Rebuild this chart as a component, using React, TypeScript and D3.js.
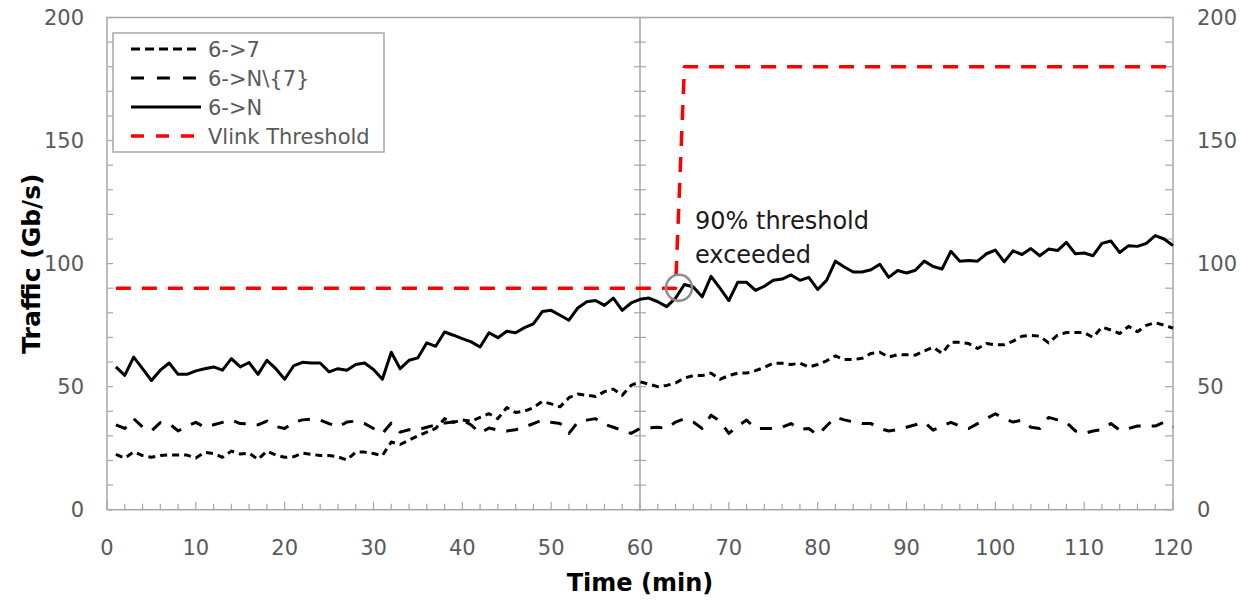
import React from "react";
import * as d3 from "d3";

const minutes = d3.range(1, 121);

const series67 = [
  22.5, 21, 23.5, 22, 21.3, 22, 22.3, 22.2, 22.2, 21,
  23.3, 22.8, 21.3, 23.8, 22.6, 23, 20.4, 23.8, 22.2, 21.3,
  21.5, 23, 22.5, 22, 22, 21.5, 20.2, 23.4, 23.4, 22.8,
  22, 27.5, 26.5, 28.3, 30, 31.5, 33, 37, 35.5, 36.5,
  36, 37.5, 39, 37, 41.5, 39.5, 40, 41.5, 44, 43,
  41.8, 45.5, 47, 46.5, 46, 48, 49, 46.5, 50.5, 52,
  51, 50, 50.5, 51.5, 53.5, 54.5, 54.5, 55.5, 53, 54.5,
  55.5, 55.5, 56.5, 57.8, 59.5, 59.5, 59, 59.5, 58, 59,
  60.5, 62.5, 61, 61, 61.5, 63.5, 64, 62, 63, 63,
  62.8, 64.5, 66, 63.5, 68, 68, 67.5, 65.5, 67.5, 67,
  67, 68.5, 70.5, 70.8, 70.5, 67.8, 70.9, 72, 72, 72,
  70, 74.2, 73, 71.6, 74.5, 72.3, 74.9, 76, 75, 73.8,
];

const series6N7 = [
  34.5, 33, 37, 33.6, 32, 35.4, 35, 32, 34, 35.5,
  33.5, 34.5, 35.5, 36.4, 35, 34.8, 34.5, 36, 33.8, 33,
  35.5, 36.5, 36.8, 36.4, 35, 33.6, 35.6, 36, 35, 33,
  31, 35.2, 31.5, 32.5, 32.5, 33.5, 34.5, 35.2, 35.6, 36.4,
  34.4, 31.1, 33.2, 32.3, 32, 32.5, 33.6, 35, 36.4, 35.5,
  35, 31, 35.6, 36.4, 37, 34.7, 33.5, 32.3, 31, 33,
  33.3, 33.5, 33, 35.6, 37, 35.6, 33, 38.4, 36, 31,
  34, 36.4, 33, 33, 33, 33.5, 35, 32.6, 33, 30.3,
  34, 37.6, 36.5, 35.7, 35, 35, 33, 32, 32.5, 33.5,
  34.5, 35.6, 32.3, 34, 35.5, 34, 33, 35, 37, 39,
  37, 35.6, 36.4, 33.5, 33, 37.5, 36.5, 35.5, 32, 31,
  32, 32.5, 35, 32.3, 33, 34, 34, 34, 35.6, 33.6,
];

const series6N = [
  58, 54.6, 62, 57.3, 52.5, 56.7, 59.6, 55, 55, 56.4,
  57.3, 58, 56.7, 61.4, 58, 59.8, 55, 60.7, 57.3, 53,
  58.4, 59.9, 59.6, 59.6, 56, 57.3, 56.7, 59, 59.6, 57,
  53, 64, 57.3, 60.7, 61.7, 67.8, 66.4, 72.2, 70.9, 69.5,
  68.2, 66.1, 71.9, 69.9, 72.5, 71.9, 74, 75.5, 80.5, 81,
  79, 77, 82, 84.5, 85, 83, 86, 81, 84, 85.5,
  86, 84.5, 82.5, 86, 91.5, 90.5, 86.5, 94.8, 90, 85,
  92.4, 92.4, 89.1, 90.8, 93.2, 93.7, 95.4, 93.2, 94.4, 89.5,
  93.2, 101, 98.6, 96.6, 96.6, 97.5, 99.7, 94.4, 97.2, 96.2,
  97.3, 101, 98.8, 97.8, 105, 101, 101.3, 101, 104, 105.5,
  100.7, 105.2, 103.7, 106.1, 103.2, 105.9, 105.3, 108.6, 104, 104.3,
  103.2, 108.2, 109.2, 104.5, 107.3, 107, 108.2, 111.4, 110, 107.3,
];

const thresholdMinutes = [1, 64, 65, 120];
const thresholdValues = [90, 90, 180, 180];

const xTickValues = d3.range(0, 121, 10);
const xMinorTicks = d3.range(0, 121, 2);
const yTickValues = [0, 50, 100, 150, 200];
const yMinorTicks = d3.range(0, 201, 10);

const legendLabels = ["6->7", "6->N\\{7}", "6->N", "Vlink Threshold"];
const annotationLines = ["90% threshold", "exceeded"];

const FONT = "'DejaVu Sans', 'Open Sans', sans-serif";
const GRID = "#a6a6a6";
const LABEL = "#595959";

const styles = [
  { color: "#000", width: 3, dash: "7,5" },
  { color: "#000", width: 3, dash: "12,11" },
  { color: "#000", width: 3, dash: "" },
  { color: "#ff0000", width: 3.5, dash: "15,11" },
];
const legendDash = ["9,5", "13,13", "", "13,12"];

export default function App() {
  const W = 1241;
  const H = 603;
  const x = d3.scaleLinear().domain([0, 120]).range([107, 1173]);
  const y = d3.scaleLinear().domain([0, 200]).range([509.7, 17.5]);

  const line = d3
    .line<[number, number]>()
    .x((d) => x(d[0]))
    .y((d) => y(d[1]));

  const seriesData: [number, number][][] = [
    minutes.map((m, i) => [m, series67[i]]),
    minutes.map((m, i) => [m, series6N7[i]]),
    minutes.map((m, i) => [m, series6N[i]]),
    thresholdMinutes.map((m, i) => [m, thresholdValues[i]]),
  ];

  const x0 = x(0);
  const x1 = x(120);
  const xm = x(60);
  const yb = y(0);
  const yt = y(200);

  return (
    <svg
      width={W}
      height={H}
      style={{ position: "absolute", left: 0, top: 0, background: "#fff" }}
      fontFamily={FONT}
    >
      <rect x={0} y={0} width={W} height={H} fill="#fff" />
      {/* frame */}
      <rect x={x0} y={yt} width={x1 - x0} height={yb - yt} fill="none" stroke={GRID} strokeWidth={1.5} />
      <line x1={xm} x2={xm} y1={yt} y2={yb} stroke={GRID} strokeWidth={1.5} />

      {/* y minor ticks */}
      {yMinorTicks.map((v) => (
        <g key={"yt" + v} stroke={GRID} strokeWidth={1.2}>
          <line x1={x0} x2={x0 + 6} y1={y(v)} y2={y(v)} />
          <line x1={xm - 6} x2={xm + 6} y1={y(v)} y2={y(v)} />
          <line x1={x1 - 8} x2={x1} y1={y(v)} y2={y(v)} />
        </g>
      ))}
      {/* x minor ticks */}
      {xMinorTicks.map((v) => (
        <line
          key={"xt" + v}
          x1={x(v)}
          x2={x(v)}
          y1={yb}
          y2={yb - (v % 10 === 0 ? 8 : 6)}
          stroke={GRID}
          strokeWidth={1.2}
        />
      ))}

      {/* y labels */}
      {yTickValues.map((v) => (
        <g key={"yl" + v} fontSize={21} fill={LABEL}>
          <text x={84} y={y(v)} dy="0.36em" textAnchor="end">{v}</text>
          <text x={1197} y={y(v)} dy="0.36em" textAnchor="start">{v}</text>
        </g>
      ))}
      {/* x labels */}
      {xTickValues.map((v) => (
        <text key={"xl" + v} x={x(v)} y={555} fontSize={21} fill={LABEL} textAnchor="middle">
          {v}
        </text>
      ))}

      {/* axis titles */}
      <text x={640} y={591} fontSize={24} fontWeight="bold" textAnchor="middle" fill="#000">
        Time (min)
      </text>
      <text
        transform={`translate(40,${(yt + yb) / 2}) rotate(-90)`}
        fontSize={25}
        fontWeight="bold"
        textAnchor="middle"
        fill="#000"
      >
        Traffic (Gb/s)
      </text>

      {/* series */}
      {seriesData.map((d, i) => (
        <path
          key={"s" + i}
          d={line(d) || ""}
          fill="none"
          stroke={styles[i].color}
          strokeWidth={styles[i].width}
          strokeDasharray={styles[i].dash || undefined}
          strokeLinejoin="round"
        />
      ))}

      {/* annotation */}
      <circle cx={679} cy={y(90) - 0.5} r={13} fill="none" stroke="#8c8c8c" strokeWidth={2.5} />
      {annotationLines.map((t, i) => (
        <text key={"an" + i} x={695} y={229 + i * 34} fontSize={24} fill="#1a1a1a">
          {t}
        </text>
      ))}

      {/* legend */}
      <rect x={113} y={33} width={271} height={119} fill="#fff" stroke={GRID} strokeWidth={1.5} />
      {legendLabels.map((t, i) => {
        const cy = 49 + i * 29;
        return (
          <g key={"lg" + i}>
            <line
              x1={131}
              x2={201}
              y1={cy}
              y2={cy}
              stroke={styles[i].color}
              strokeWidth={styles[i].width}
              strokeDasharray={legendDash[i] || undefined}
            />
            <text x={208} y={cy + 7.5} fontSize={21} fill={LABEL}>
              {t}
            </text>
          </g>
        );
      })}
    </svg>
  );
}
